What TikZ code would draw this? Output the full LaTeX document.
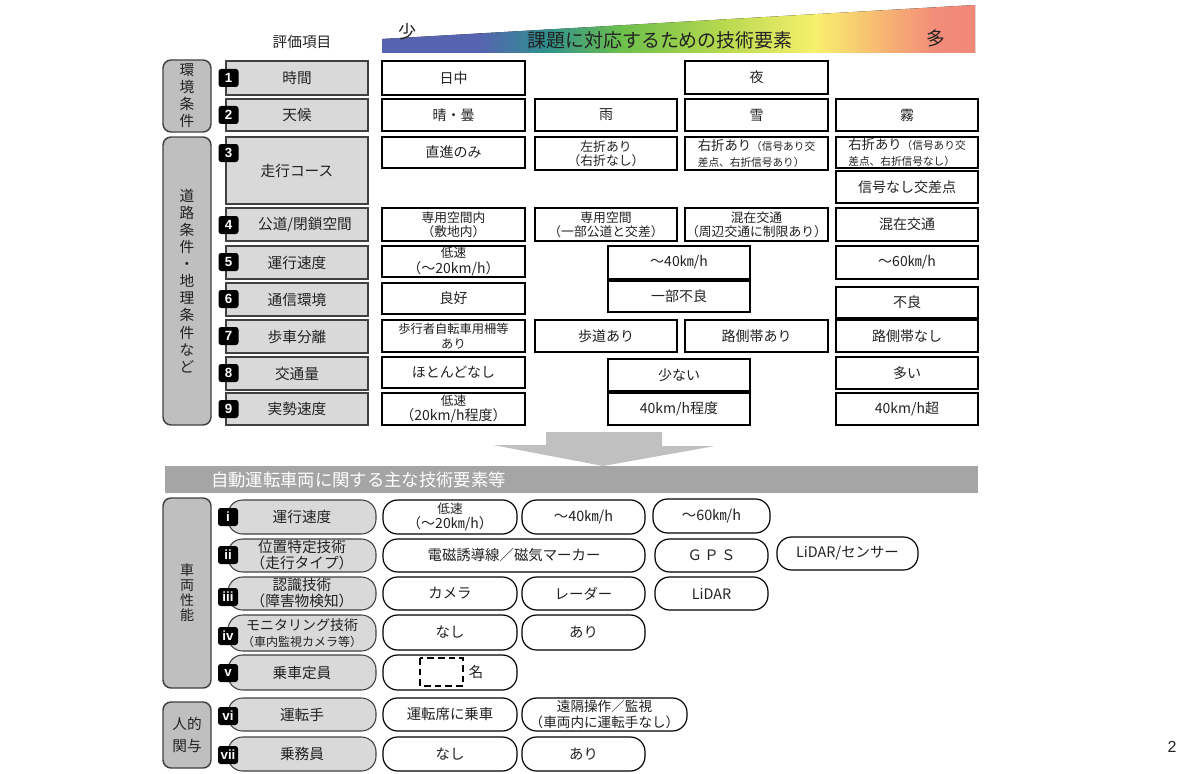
\documentclass[tikz,border=0pt]{standalone}
\usepackage{fontspec}
\setmainfont{Noto Sans CJK JP}
\newfontfamily\latf{Liberation Sans}
\definecolor{catfill}{HTML}{BFBFBF}
\definecolor{labfill}{HTML}{D9D9D9}
\definecolor{edge}{HTML}{404040}
\definecolor{barfill}{HTML}{A5A5A5}
\definecolor{arrowfill}{HTML}{C0C0C0}
\definecolor{txt}{HTML}{222222}
\definecolor{g0}{HTML}{5664B0}
\definecolor{g1}{HTML}{5664B0}
\definecolor{g2}{HTML}{2F9090}
\definecolor{g3}{HTML}{6CBF4C}
\definecolor{g4}{HTML}{B5D84E}
\definecolor{g5}{HTML}{F8F06E}
\definecolor{g6}{HTML}{F7B872}
\definecolor{g7}{HTML}{F28C7A}
\definecolor{g8}{HTML}{F08878}
\newcommand\bx[7]{\node[#6,minimum width={(#4-#2)*0.75pt},minimum height={(#5-#3)*0.75pt}] (#1) at ({(#2+#4)/2},{(#3+#5)/2}) {#7};}
\newcommand\bdg[4]{\node[badge] (#1) at (#2,#3) {#4};}
\newcommand\gseg[4]{\fill[left color=#3,right color=#4] (#1,0) rectangle (#2+0.6,60);}
\tikzset{
  catbox/.style={draw=edge,fill=catfill,line width=1.1pt,rounded corners=6pt,inner sep=0pt,align=center,text=txt,font=\fontsize{11}{12.8}\selectfont},
  labbox/.style={draw=edge,fill=labfill,line width=0.8pt,inner sep=0pt,align=center,text=txt,font=\fontsize{11}{13}\selectfont},
  valbox/.style={draw=black,fill=white,line width=0.9pt,inner sep=0pt,align=center,text=txt,font=\fontsize{10.5}{12.5}\selectfont},
  twoline/.style={font=\fontsize{9.6}{10.8}\selectfont},
  badge/.style={fill=black,rounded corners=2pt,text=white,font=\latf\bfseries\fontsize{10}{10}\selectfont,minimum width=15pt,minimum height=13.5pt,inner sep=0.5pt},
  labpill/.style={draw=edge,fill=labfill,line width=0.8pt,rounded corners=11pt,inner sep=0pt,align=center,text=txt,font=\fontsize{11}{13}\selectfont},
  valpill/.style={draw=black,fill=white,line width=0.9pt,rounded corners=11pt,inner sep=0pt,align=center,text=txt,font=\fontsize{10.8}{12.5}\selectfont},
  plain/.style={inner sep=0pt,text=txt}
}
\begin{document}
\begin{tikzpicture}[x=0.75pt,y=-0.75pt]
\useasboundingbox (0,0) rectangle (1200,774);
% ---------- header ----------
\node[plain,font=\fontsize{11}{13}\selectfont] (hdr) at (302,42) {評価項目};
\begin{scope}
\clip (382,53) -- (382,39) -- (975,5) -- (975,53) -- cycle;
\gseg{382}{480}{g0}{g1}
\gseg{480}{545}{g1}{g2}
\gseg{545}{620}{g2}{g3}
\gseg{620}{720}{g3}{g4}
\gseg{720}{815}{g4}{g5}
\gseg{815}{880}{g5}{g6}
\gseg{880}{935}{g6}{g7}
\gseg{935}{975}{g7}{g8}
\end{scope}
\node[plain,font=\fontsize{13.5}{15}\selectfont] (few) at (407,32) {少};
\node[plain,font=\fontsize{14}{16}\selectfont] (many) at (936,38) {多};
\node[plain,font=\fontsize{14.2}{16}\selectfont] (ttl) at (660,40) {課題に対応するための技術要素};
% ---------- category boxes (upper) ----------
\bx{envc}{163}{60}{211}{132}{catbox}{環\\境\\条\\件}
\bx{roadc}{163}{137}{211}{425}{catbox}{道\\路\\条\\件\\・\\地\\理\\条\\件\\な\\ど}
% ---------- label boxes (upper) ----------
\bx{l1}{226}{61}{368}{95}{labbox}{時間}
\bx{l2}{226}{99}{368}{131}{labbox}{天候}
\bx{l3}{226}{137}{368}{204}{labbox}{走行コース}
\bx{l4}{226}{208}{368}{241}{labbox}{\hspace*{12pt}公道/閉鎖空間}
\bx{l5}{226}{246}{368}{279}{labbox}{運行速度}
\bx{l6}{226}{283}{368}{316}{labbox}{通信環境}
\bx{l7}{226}{320}{368}{353}{labbox}{歩車分離}
\bx{l8}{226}{357}{368}{390}{labbox}{交通量}
\bx{l9}{226}{393}{368}{425}{labbox}{実勢速度}
\bdg{b1}{228.5}{78}{1}
\bdg{b2}{228.5}{115}{2}
\bdg{b3}{228.5}{153}{3}
\bdg{b4}{228.5}{225}{4}
\bdg{b5}{228.5}{262}{5}
\bdg{b6}{228.5}{299}{6}
\bdg{b7}{228.5}{336}{7}
\bdg{b8}{228.5}{373}{8}
\bdg{b9}{228.5}{409}{9}
% ---------- value boxes (upper) ----------
\bx{v1a}{382}{61}{525}{95}{valbox}{日中}
\bx{v1c}{685}{61}{828}{94}{valbox}{夜}
\bx{v2a}{382}{99}{525}{131}{valbox}{晴・曇}
\bx{v2b}{535}{99}{677}{131}{valbox}{雨}
\bx{v2c}{685}{99}{828}{131}{valbox}{雪}
\bx{v2d}{836}{99}{978}{131}{valbox}{霧}
\bx{v3a}{382}{137}{525}{168}{valbox}{直進のみ}
\bx{v3b}{535}{137}{677}{170}{valbox,twoline}{左折あり\\（右折なし）}
\bx{v3c}{685}{137}{828}{170}{valbox,align=left,font=\fontsize{8}{11.5}\selectfont}{{\fontsize{10}{11.5}\selectfont 右折あり}（信号あり交\\差点、右折信号あり）}
\bx{v3d}{836}{137}{978}{168}{valbox,align=left,font=\fontsize{8}{11.5}\selectfont}{{\fontsize{10}{11.5}\selectfont 右折あり}（信号あり交\\差点、右折信号なし）}
\bx{v3e}{836}{171}{978}{203}{valbox}{信号なし交差点}
\bx{v4a}{382}{208}{525}{241}{valbox,twoline}{専用空間内\\（敷地内）}
\bx{v4b}{535}{208}{677}{241}{valbox,twoline}{専用空間\\（一部公道と交差）}
\bx{v4c}{685}{208}{828}{241}{valbox,twoline}{混在交通\\（周辺交通に制限あり）}
\bx{v4d}{836}{208}{978}{241}{valbox}{混在交通}
\bx{v5a}{382}{246}{525}{277}{valbox,font=\fontsize{10.5}{11.5}\selectfont}{{\fontsize{9.5}{11.5}\selectfont 低速}\\（～20km/h）}
\bx{v5m}{608}{246}{750}{279}{valbox}{～40㎞/h}
\bx{v5d}{836}{246}{978}{279}{valbox}{～60㎞/h}
\bx{v6a}{382}{283}{525}{314}{valbox}{良好}
\bx{v6m}{608}{281}{750}{312}{valbox}{一部不良}
\bx{v6d}{836}{287}{978}{318}{valbox}{不良}
\bx{v7a}{382}{320}{525}{352}{valbox,font=\fontsize{9.2}{11}\selectfont}{歩行者自転車用柵等\\あり}
\bx{v7b}{535}{320}{677}{352}{valbox}{歩道あり}
\bx{v7c}{685}{320}{828}{352}{valbox}{路側帯あり}
\bx{v7d}{836}{320}{978}{352}{valbox}{路側帯なし}
\bx{v8a}{382}{357}{525}{388}{valbox}{ほとんどなし}
\bx{v8m}{608}{359}{750}{391}{valbox}{少ない}
\bx{v8d}{836}{357}{978}{389}{valbox}{多い}
\bx{v9a}{382}{393}{525}{425}{valbox,font=\fontsize{10.5}{11.5}\selectfont}{{\fontsize{9.5}{11.5}\selectfont 低速}\\（20km/h程度）}
\bx{v9m}{608}{393}{750}{425}{valbox}{40km/h程度}
\bx{v9d}{836}{393}{978}{425}{valbox}{40km/h超}
% ---------- big arrow ----------
\fill[arrowfill] (546,432) -- (662,432) -- (662,446) -- (715,446) -- (603,466) -- (493,445) -- (546,445) -- cycle;
% ---------- lower bar ----------
\fill[barfill] (165,466) rectangle (978,493);
\node[plain,anchor=west,text=white,font=\fontsize{13}{15}\selectfont] (bar) at (211,480) {自動運転車両に関する主な技術要素等};
% ---------- category boxes (lower) ----------
\bx{vehc}{163}{498}{211}{688}{catbox,font=\fontsize{10.5}{11.2}\selectfont}{車\\両\\性\\能}
\bx{humc}{163}{702}{211}{768}{catbox,font=\fontsize{11}{16}\selectfont}{人的\\関与}
% ---------- label pills (lower) ----------
\bx{li}{228}{500}{376}{534}{labpill}{運行速度}
\bx{lii}{228}{539}{376}{572}{labpill,font=\fontsize{11}{12}\selectfont}{位置特定技術\\（走行タイプ）}
\bx{liii}{228}{577}{376}{610}{labpill,font=\fontsize{11}{12}\selectfont}{認識技術\\（障害物検知）}
\bx{liv}{228}{615}{376}{651}{labpill,font=\fontsize{9}{12}\selectfont}{{\fontsize{10.5}{12}\selectfont モニタリング技術}\\（車内監視カメラ等）}
\bx{lv}{228}{655}{376}{690}{labpill}{乗車定員}
\bx{lvi}{228}{698}{376}{731}{labpill}{運転手}
\bx{lvii}{228}{737}{376}{771}{labpill}{乗務員}
\bdg{bi}{228}{517}{i}
\bdg{bii}{228}{555}{ii}
\bdg{biii}{228}{597}{iii}
\bdg{biv}{228}{636}{iv}
\bdg{bv}{228}{673}{v}
\bdg{bvi}{228}{716}{vi}
\bdg{bvii}{228}{755}{vii}
% ---------- value pills (lower) ----------
\bx{pi1}{383}{500}{517}{534}{valpill,font=\fontsize{10.5}{11.5}\selectfont}{{\fontsize{9.5}{11.5}\selectfont 低速}\\（～20㎞/h）}
\bx{pi2}{522}{500}{645}{534}{valpill}{～40㎞/h}
\bx{pi3}{653}{499}{770}{533}{valpill}{～60㎞/h}
\bx{pii1}{383}{539}{645}{572}{valpill}{電磁誘導線／磁気マーカー}
\bx{pii2}{655}{539}{768}{572}{valpill}{Ｇ\,Ｐ\,Ｓ}
\bx{pii3}{777}{537}{918}{570}{valpill}{LiDAR/センサー}
\bx{piii1}{383}{577}{517}{610}{valpill}{カメラ}
\bx{piii2}{522}{577}{645}{610}{valpill}{レーダー}
\bx{piii3}{655}{577}{768}{610}{valpill}{LiDAR}
\bx{piv1}{383}{615}{517}{650}{valpill}{なし}
\bx{piv2}{522}{615}{645}{650}{valpill}{あり}
\bx{pv1}{383}{655}{517}{690}{valpill}{}
\draw[line width=2.2pt,dash pattern=on 5pt off 3pt] (420,658) rectangle (463,686);
\node[plain,font=\fontsize{10.8}{12}\selectfont] (mei) at (476,672) {名};
\bx{pvi1}{383}{698}{517}{731}{valpill}{運転席に乗車}
\bx{pvi2}{522}{698}{687}{731}{valpill,font=\fontsize{10.2}{11.5}\selectfont}{遠隔操作／監視\\（車両内に運転手なし）}
\bx{pvii1}{383}{737}{517}{771}{valpill}{なし}
\bx{pvii2}{522}{737}{645}{771}{valpill}{あり}
% ---------- page number ----------
\node[plain,font=\latf\fontsize{12}{14}\selectfont] (pg) at (1172,747) {2};
\end{tikzpicture}
\end{document}
